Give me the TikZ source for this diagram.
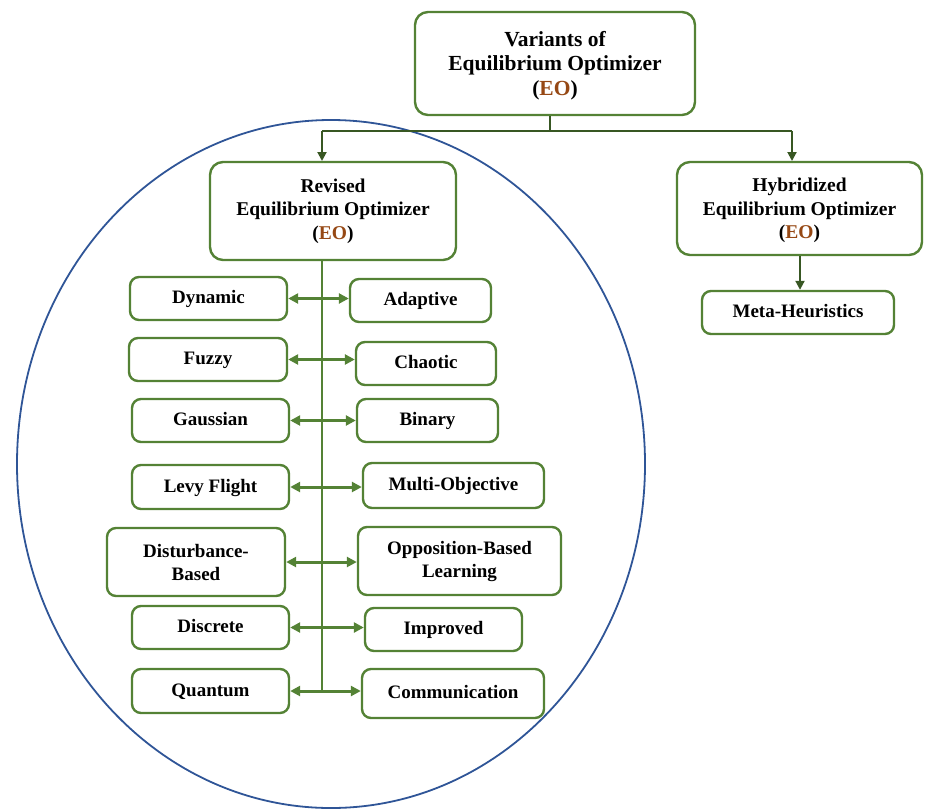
\documentclass[tikz,border=0pt]{standalone}
\usepackage{fontspec}
\setmainfont{Liberation Serif}
\usetikzlibrary{arrows.meta,shapes.geometric}
\definecolor{boxgreen}{RGB}{84,130,53}
\definecolor{lineg}{RGB}{56,87,35}
\definecolor{eobrown}{RGB}{150,72,20}
\definecolor{ellblue}{RGB}{47,85,151}
\newcommand{\EO}{(\textcolor{eobrown}{EO})}
\begin{document}
\begin{tikzpicture}[x=1pt,y=-1pt,
  box/.style={draw=boxgreen,line width=2.4pt,rounded corners=9pt,fill=white,
    align=center,inner sep=0pt,font=\bfseries\fontsize{19}{23}\selectfont},
  one/.style={text height=12pt,text depth=2pt},
  head/.style={box,rounded corners=13pt,font=\bfseries\fontsize{19.5}{23.5}\selectfont},
  dbl/.style={draw=boxgreen,line width=3pt,{Triangle[length=10pt,width=10pt]}-{Triangle[length=10pt,width=10pt]}},
  down/.style={draw=lineg,line width=2pt,-{Triangle[length=9pt,width=9pt]}},
  conn/.style={draw=lineg,line width=2pt}]
\useasboundingbox (0,0) rectangle (925,809);
\node[draw=ellblue,line width=1.8pt,ellipse,minimum width=628pt,minimum height=688pt,inner sep=0pt] (ell) at (331,464) {};
% top
\node[head,minimum width=280pt,minimum height=103pt,font=\bfseries\fontsize{21.5}{24.5}\selectfont] (top) at (555,63.5) {\rule{0pt}{18.7pt}Variants of\\Equilibrium Optimizer\\\EO};
\node[head,minimum width=246pt,minimum height=98pt] (rev) at (333,211) {Revised\\Equilibrium Optimizer\\\EO};
\node[head,minimum width=245pt,minimum height=93pt] (hyb) at (799.5,208.5) {\rule{0pt}{18pt}Hybridized\\Equilibrium Optimizer\\\EO};
\node[box,one,minimum width=192pt,minimum height=43pt] (meta) at (798,312.5) {Meta-Heuristics};
\coordinate (split) at (550,131);
\draw[conn] (top.south -| split) -- (split);
\draw[conn] (322,131) -- (792,131);
\draw[down] (322,131) -- (322,161);
\draw[down] (792,131) -- (792,161);
\draw[down] (hyb.south -| 800,0) -- (meta.north -| 800,0);
% left column
\node[box,one,minimum width=157pt,minimum height=43pt] (dyn) at (208.5,298.5) {Dynamic};
\node[box,one,minimum width=158pt,minimum height=43pt] (fuz) at (208,359.5) {Fuzzy};
\node[box,one,minimum width=157pt,minimum height=43pt] (gau) at (210.5,420.5) {Gaussian};
\node[box,one,minimum width=157pt,minimum height=44pt] (lev) at (210.5,487) {Levy Flight};
\node[box,minimum width=178pt,minimum height=68pt] (dis) at (196,562) {Disturbance-\\Based};
\node[box,one,minimum width=157pt,minimum height=43pt] (dsc) at (210.5,627.5) {Discrete};
\node[box,one,minimum width=157pt,minimum height=44pt] (qua) at (210.5,691) {Quantum};
% right column
\node[box,one,minimum width=141pt,minimum height=43pt] (ada) at (420.5,300.5) {Adaptive};
\node[box,one,minimum width=140pt,minimum height=43pt] (cha) at (426,363.5) {Chaotic};
\node[box,one,minimum width=141pt,minimum height=43pt] (bin) at (427.5,420.5) {Binary};
\node[box,one,minimum width=181pt,minimum height=45pt] (mul) at (453.5,485.5) {Multi-Objective};
\node[box,minimum width=203pt,minimum height=68pt] (opp) at (459.5,561) {Opposition-Based\\Learning};
\node[box,one,minimum width=157pt,minimum height=43pt] (imp) at (443.5,629.5) {Improved};
\node[box,one,minimum width=182pt,minimum height=49pt] (com) at (453,693.5) {Communication};
% spine
\coordinate (spineend) at (322,690);
\draw[draw=boxgreen,line width=2.2pt] (rev.south -| spineend) -- (spineend);
% arrows
\draw[dbl] (dyn.east) -- (dyn.east -| ada.west);
\draw[dbl] (fuz.east) -- (fuz.east -| cha.west);
\draw[dbl] (gau.east) -- (gau.east -| bin.west);
\draw[dbl] (lev.east) -- (lev.east -| mul.west);
\draw[dbl] (dis.east) -- (dis.east -| opp.west);
\draw[dbl] (dsc.east) -- (dsc.east -| imp.west);
\draw[dbl] (qua.east) -- (qua.east -| com.west);
\end{tikzpicture}
\end{document}
